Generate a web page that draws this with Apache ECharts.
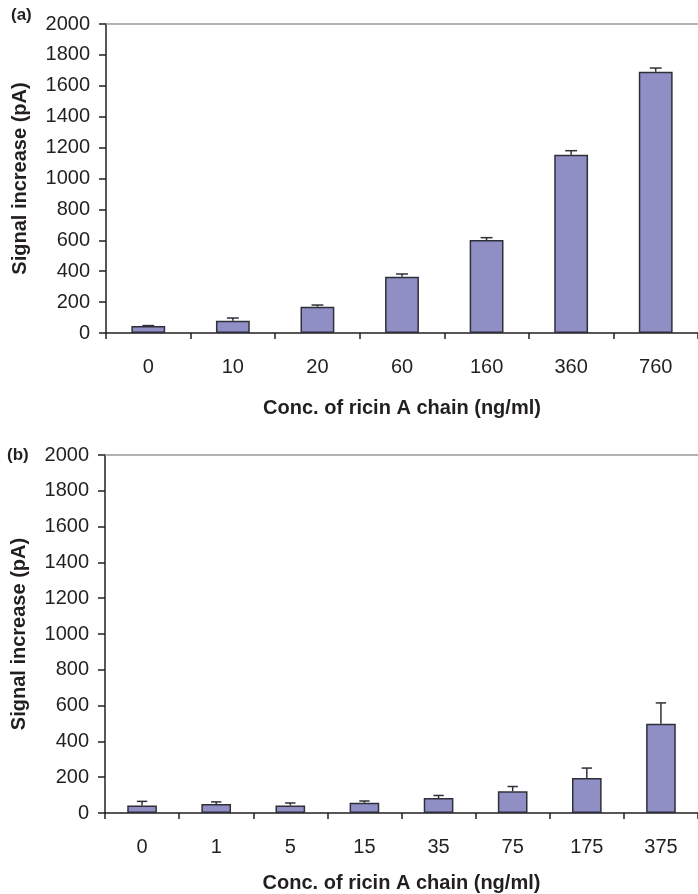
<!DOCTYPE html>
<html>
<head>
<meta charset="utf-8">
<script src="https://cdn.jsdelivr.net/npm/echarts@6/dist/echarts.min.js"></script>
<style>html,body{margin:0;padding:0;background:#fff;}#c{width:698px;height:894px;}</style>
</head>
<body>
<div id="c"></div>
<script>
var catsA = ['0', '10', '20', '60', '160', '360', '760'];
var valsA = [45, 80, 170, 364, 602, 1154, 1691];
var errsA = [3, 17, 11, 18, 15, 26, 24];
var catsB = ['0', '1', '5', '15', '35', '75', '175', '375'];
var valsB = [42, 50, 42, 57, 84, 121, 195, 498];
var errsB = [23, 12, 14, 10, 14, 27, 56, 117];
var yTicks = [0, 200, 400, 600, 800, 1000, 1200, 1400, 1600, 1800, 2000];
var xTitle = 'Conc. of ricin A chain (ng/ml)';
var yTitle = 'Signal increase (pA)';

var FONT = 'Liberation Sans, Arial, sans-serif';
var TXT = '#231f20';
var BAR = '#8f8fc6';
var EDGE = '#2f2f3a';

function catAxis(idx, cats, gap) {
  return {
    type: 'category', gridIndex: idx, data: cats, position: 'bottom',
    axisLine: { lineStyle: { color: TXT, width: 1.5 } },
    axisTick: { show: true, alignWithLabel: false, length: 6, lineStyle: { color: TXT, width: 1.5 } },
    axisLabel: { fontFamily: FONT, fontSize: 20, color: TXT, margin: 24 },
    name: xTitle, nameLocation: 'middle', nameGap: gap,
    nameTextStyle: { fontFamily: FONT, fontSize: 20, fontWeight: 'bold', color: TXT }
  };
}
function topAxis(idx, cats) {
  return {
    type: 'category', gridIndex: idx, data: cats, position: 'top',
    axisLine: { lineStyle: { color: '#9a9a9a', width: 1.5 } },
    axisTick: { show: false }, axisLabel: { show: false }
  };
}
function valAxis(idx) {
  return {
    type: 'value', gridIndex: idx, min: yTicks[0], max: yTicks[yTicks.length - 1],
    interval: yTicks[1] - yTicks[0],
    axisLine: { show: true, lineStyle: { color: TXT, width: 1.5 } },
    axisTick: { show: true, length: 7, lineStyle: { color: TXT, width: 1.5 } },
    splitLine: { show: false },
    axisLabel: { fontFamily: FONT, fontSize: 20, color: TXT, margin: 16,
      formatter: function (v) { return String(v); } },
    name: yTitle, nameLocation: 'middle', nameGap: 76,
    nameTextStyle: { fontFamily: FONT, fontSize: 20, fontWeight: 'bold', color: TXT }
  };
}
function barSeries(idx, vals) {
  return {
    type: 'bar', xAxisIndex: idx * 2, yAxisIndex: idx, data: vals, barWidth: '40%',
    itemStyle: { color: BAR, borderColor: EDGE, borderWidth: 1.5 },
    silent: true, z: 2
  };
}
function errSeries(idx, vals, errs) {
  var data = vals.map(function (v, i) { return [i, v, v + errs[i]]; });
  return {
    type: 'custom', xAxisIndex: idx * 2, yAxisIndex: idx, data: data, z: 3, silent: true,
    encode: { x: 0, y: [1, 2] },
    renderItem: function (params, api) {
      var i = api.value(0);
      var p0 = api.coord([i, api.value(1)]);
      var p1 = api.coord([i, api.value(2)]);
      var hw = api.size([1, 0])[0] * 0.07;
      var st = { stroke: EDGE, lineWidth: 1.5 };
      return {
        type: 'group', children: [
          { type: 'line', shape: { x1: p0[0], y1: p0[1], x2: p1[0], y2: p1[1] }, style: st },
          { type: 'line', shape: { x1: p1[0] - hw, y1: p1[1], x2: p1[0] + hw, y2: p1[1] }, style: st }
        ]
      };
    }
  };
}

var chart = echarts.init(document.getElementById('c'), null, { renderer: 'canvas' });
chart.setOption({
  backgroundColor: '#fff',
  animation: false,
  textStyle: { fontFamily: FONT },
  grid: [
    { left: 106, top: 24, width: 598, height: 309 },
    { left: 105, top: 455, width: 595, height: 358 }
  ],
  xAxis: [catAxis(0, catsA, 65), topAxis(0, catsA), catAxis(1, catsB, 60), topAxis(1, catsB)],
  yAxis: [valAxis(0), valAxis(1)],
  series: [barSeries(0, valsA), errSeries(0, valsA, errsA), barSeries(1, valsB), errSeries(1, valsB, errsB)],
  graphic: [
    { type: 'text', left: 11, top: 7, style: { text: '(a)', font: 'bold 17px ' + FONT, fill: TXT } },
    { type: 'text', left: 7, top: 447, style: { text: '(b)', font: 'bold 17px ' + FONT, fill: TXT } }
  ]
});
</script>
</body>
</html>
